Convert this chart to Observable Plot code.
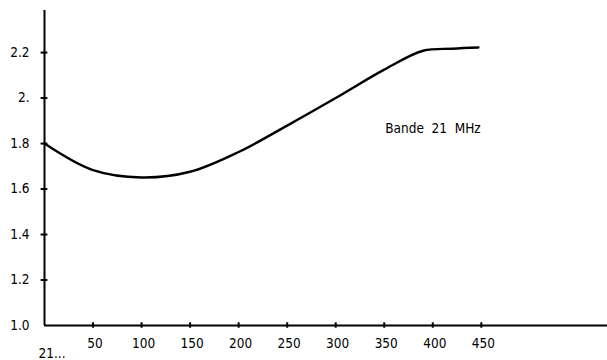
<!DOCTYPE html>
<html>
<head>
<meta charset="utf-8">
<script src="https://cdn.jsdelivr.net/npm/d3@7"></script>
<script src="https://cdn.jsdelivr.net/npm/@observablehq/plot@0.6"></script>
<style>
  html, body { margin: 0; padding: 0; background: #fff; }
  #chart svg { display: block; }
</style>
</head>
<body>
<div id="chart"></div>
<script>
// Data
const xValues = [0, 50, 100, 150, 200, 250, 300, 350, 390, 420, 447];
const yValues = [1.80, 1.683, 1.651, 1.676, 1.763, 1.879, 2.0, 2.125, 2.208, 2.217, 2.222];
const xTicks = [50, 100, 150, 200, 250, 300, 350, 400, 450];
const xTickLabels = ["50", "100", "150", "200", "250", "300", "350", "400", "450"];
const yTicks = [1.0, 1.2, 1.4, 1.6, 1.8, 2.0, 2.2];
const yTickLabels = ["1.0", "1.2", "1.4", "1.6", "1.8", "2.", "2.2"];
const originLabel = "21...";
const annotation = "Bande  21  MHz";
const annotationPos = {x: 351, y: 1.865};

const series = xValues.map((x, i) => ({x, y: yValues[i]}));
const font = "'DejaVu Sans Condensed', 'Liberation Sans Narrow', sans-serif";

const chart = Plot.plot({
  width: 607,
  height: 360,
  marginLeft: 44,
  marginRight: 0,
  marginTop: 10,
  marginBottom: 35,
  x: {domain: [0, 580], axis: null},
  y: {domain: [1, 2.385], axis: null},
  style: {fontFamily: font, fontSize: "13.5px", color: "#000", background: "#fff"},
  marks: [
    // axis lines
    Plot.ruleY([1], {stroke: "#000", strokeWidth: 2}),
    Plot.ruleX([0], {stroke: "#000", strokeWidth: 2}),
    // x ticks (crossing the axis)
    Plot.ruleX(xTicks, {x: d => d, y1: 1 - 0.012, y2: 1 + 0.012, stroke: "#000", strokeWidth: 2}),
    // y ticks (crossing the axis)
    Plot.ruleY(yTicks.slice(1), {y: d => d, x1: -3.5, x2: 3.5, stroke: "#000", strokeWidth: 2}),
    // tick labels
    Plot.text(xTicks, {x: d => d, y: 1, text: (d, i) => xTickLabels[i], dy: 18, dx: 2, fontSize: 13.5, fontWeight: 500}),
    Plot.text(yTicks, {x: 0, y: d => d, text: (d, i) => yTickLabels[i], textAnchor: "end", dx: -15, fontSize: 13.5, fontWeight: 500}),
    Plot.text([originLabel], {x: 0, y: 1, text: d => d, textAnchor: "start", dx: -6, dy: 28, fontSize: 13.5, fontWeight: 500}),
    // the curve
    Plot.line(series, {x: "x", y: "y", curve: "catmull-rom", stroke: "#000", strokeWidth: 2.4}),
    // annotation
    Plot.text([annotation], {x: annotationPos.x, y: annotationPos.y, text: d => d, textAnchor: "start", fontSize: 13.5, fontWeight: 500})
  ]
});
document.getElementById("chart").appendChild(chart);
</script>
</body>
</html>
